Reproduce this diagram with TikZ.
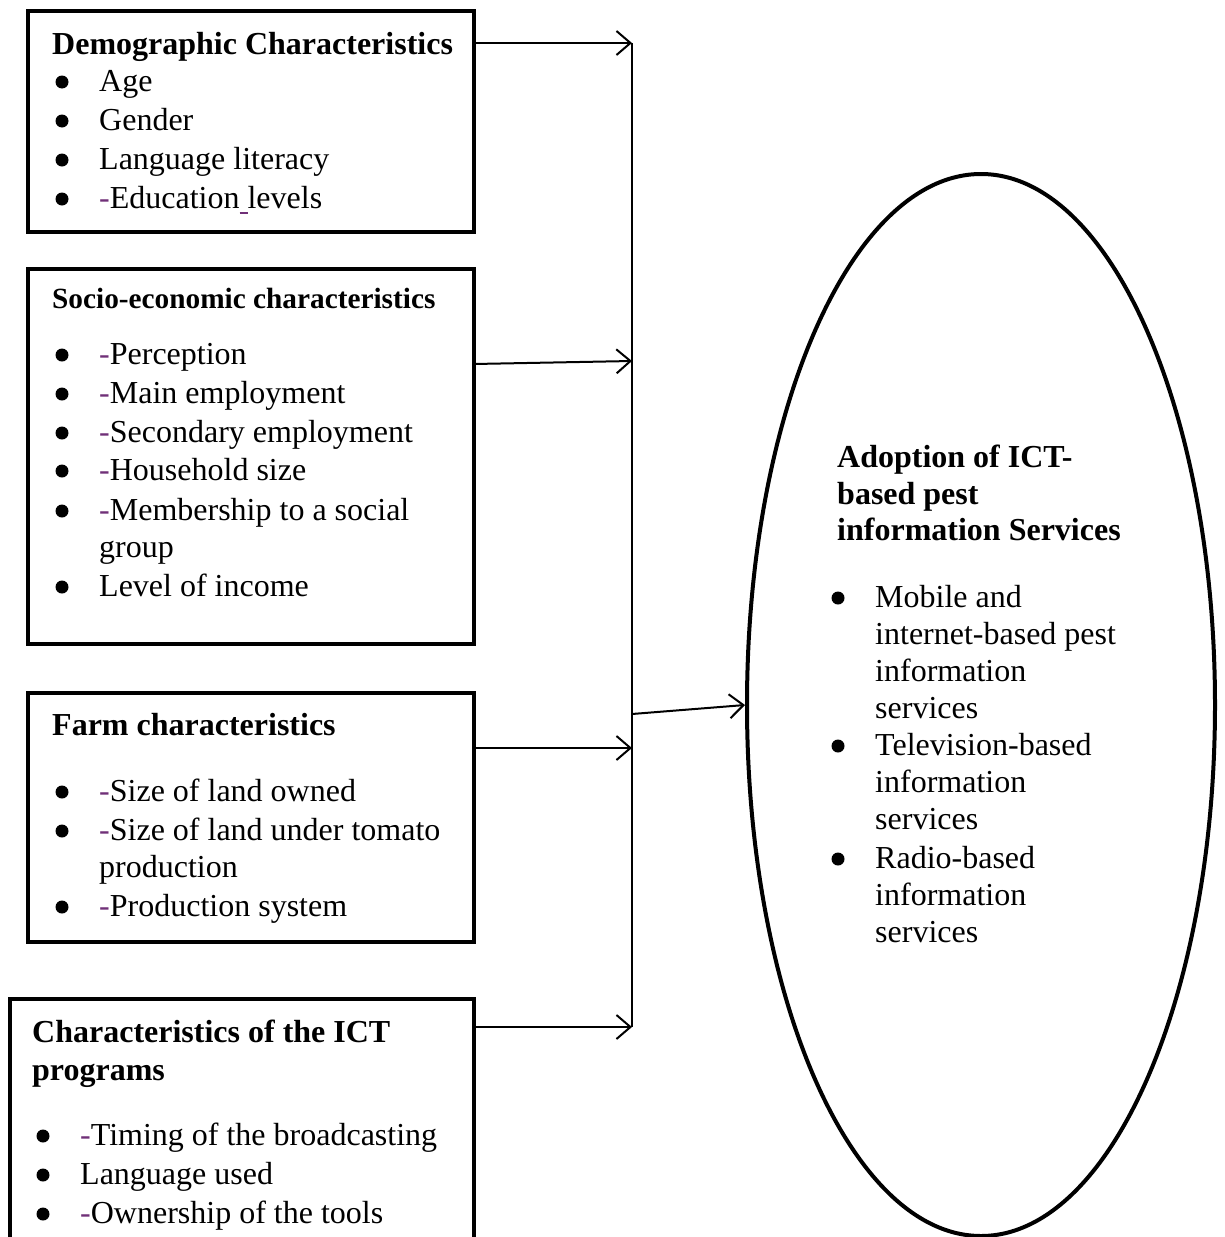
\documentclass[tikz,border=0pt]{standalone}
\usepackage{fontspec}
\setmainfont{Liberation Serif}
\usetikzlibrary{arrows.meta,shapes.geometric}
\definecolor{dpurple}{RGB}{112,48,120}
\newcommand{\pd}{\textcolor{dpurple}{-}}
\begin{document}
\begin{tikzpicture}[x=1pt,y=-1pt,
  box/.style={draw,line width=4pt,inner sep=0pt},
  txt/.style={anchor=base west,inner sep=0pt,font=\fontsize{32}{39}\selectfont},
  hd/.style={anchor=base west,inner sep=0pt,font=\fontsize{32}{39}\selectfont\bfseries},
  hdsmall/.style={anchor=base west,inner sep=0pt,font=\fontsize{29.3}{35}\selectfont\bfseries},
  dot/.style={circle,fill,inner sep=0pt,minimum size=13pt},
  conn/.style={line width=2pt},
  arr/.style={line width=2pt,-{Straight Barb[length=14pt,width=24pt,line width=2pt]}}]
\useasboundingbox (0,0) rectangle (1224,1237);
\clip (0,0) rectangle (1224,1237);

% boxes
\node[box,minimum width=446pt,minimum height=221pt] (b1) at (251,121.5) {};
\node[box,minimum width=446pt,minimum height=375pt] (b2) at (251,456.5) {};
\node[box,minimum width=446pt,minimum height=249pt] (b3) at (251,817.5) {};
\node[box,minimum width=464pt,minimum height=261pt] (b4) at (242,1129.5) {};

% ellipse
\node[draw,ellipse,line width=4pt,minimum width=468pt,minimum height=1062pt,inner sep=0pt] (el) at (981,705) {};

% box 1 text
\node[hd] (h1) at (52,54) {Demographic Characteristics};
\node[dot] (u11) at (62,82) {};
\node[txt] (t11) at (99,91) {Age};
\node[dot] (u12) at (62,121) {};
\node[txt] (t12) at (99,130) {Gender};
\node[dot] (u13) at (62,160) {};
\node[txt] (t13) at (99,169) {Language literacy};
\node[dot] (u14) at (62,199) {};
\node[txt] (t14) at (99,208) {\pd Education\textcolor{dpurple}{\rule[-6pt]{8pt}{2.5pt}}levels};

% box 2 text
\node[hdsmall] (h2) at (52,308) {Socio-economic characteristics};
\node[dot] (u21) at (62,355) {};
\node[txt] (t21) at (99,364) {\pd Perception};
\node[dot] (u22) at (62,394) {};
\node[txt] (t22) at (99,403) {\pd Main employment};
\node[dot] (u23) at (62,433) {};
\node[txt] (t23) at (99,442) {\pd Secondary employment};
\node[dot] (u24) at (62,471) {};
\node[txt] (t24) at (99,480) {\pd Household size};
\node[dot] (u25) at (62,511) {};
\node[txt] (t25) at (99,520) {\pd Membership to a social};
\node[txt] (t25b) at (99,557) {group};
\node[dot] (u26) at (62,587) {};
\node[txt] (t26) at (99,596) {Level of income};

% box 3 text
\node[hd] (h3) at (52,735) {Farm characteristics};
\node[dot] (u31) at (62,792) {};
\node[txt] (t31) at (99,801) {\pd Size of land owned};
\node[dot] (u32) at (62,831) {};
\node[txt] (t32) at (99,840) {\pd Size of land under tomato};
\node[txt] (t32b) at (99,877) {production};
\node[dot] (u33) at (62,907) {};
\node[txt] (t33) at (99,916) {\pd Production system};

% box 4 text
\node[hd] (h4) at (32,1042) {Characteristics of the ICT};
\node[hd] (h4b) at (32,1080) {programs};
\node[dot] (u41) at (43,1136) {};
\node[txt] (t41) at (80,1145) {\pd Timing of the broadcasting};
\node[dot] (u42) at (43,1175) {};
\node[txt] (t42) at (80,1184) {Language used};
\node[dot] (u43) at (43,1214) {};
\node[txt] (t43) at (80,1223) {\pd Ownership of the tools};

% ellipse text
\node[hd] (e1) at (837,467) {Adoption of ICT-};
\node[hd] (e2) at (837,504) {based pest};
\node[hd] (e3) at (837,540) {information Services};
\node[dot] (v1) at (838,598) {};
\node[txt] (f1) at (875,607) {Mobile and};
\node[txt] (f1b) at (875,644) {internet-based pest};
\node[txt] (f1c) at (875,681) {information};
\node[txt] (f1d) at (875,718) {services};
\node[dot] (v2) at (838,746) {};
\node[txt] (f2) at (875,755) {Television-based};
\node[txt] (f2b) at (875,792) {information};
\node[txt] (f2c) at (875,829) {services};
\node[dot] (v3) at (838,859) {};
\node[txt] (f3) at (875,868) {Radio-based};
\node[txt] (f3b) at (875,905) {information};
\node[txt] (f3c) at (875,942) {services};

% connector coordinates
\coordinate (o1) at (474,43);
\coordinate (o2) at (474,364);
\coordinate (o3) at (474,748);
\coordinate (o4) at (474,1027);
\coordinate (j1) at (632,43);
\coordinate (j2) at (632,361);
\coordinate (j3) at (632,748);
\coordinate (j4) at (632,1027);
\coordinate (jm) at (632,714);

\draw[conn] (j1) -- (j4);
\draw[arr] (o1) -- (j1);
\draw[arr] (o2) -- (j2);
\draw[arr] (o3) -- (j3);
\draw[arr] (o4) -- (j4);
\draw[arr] (jm) -- (el.west);
\end{tikzpicture}
\end{document}
